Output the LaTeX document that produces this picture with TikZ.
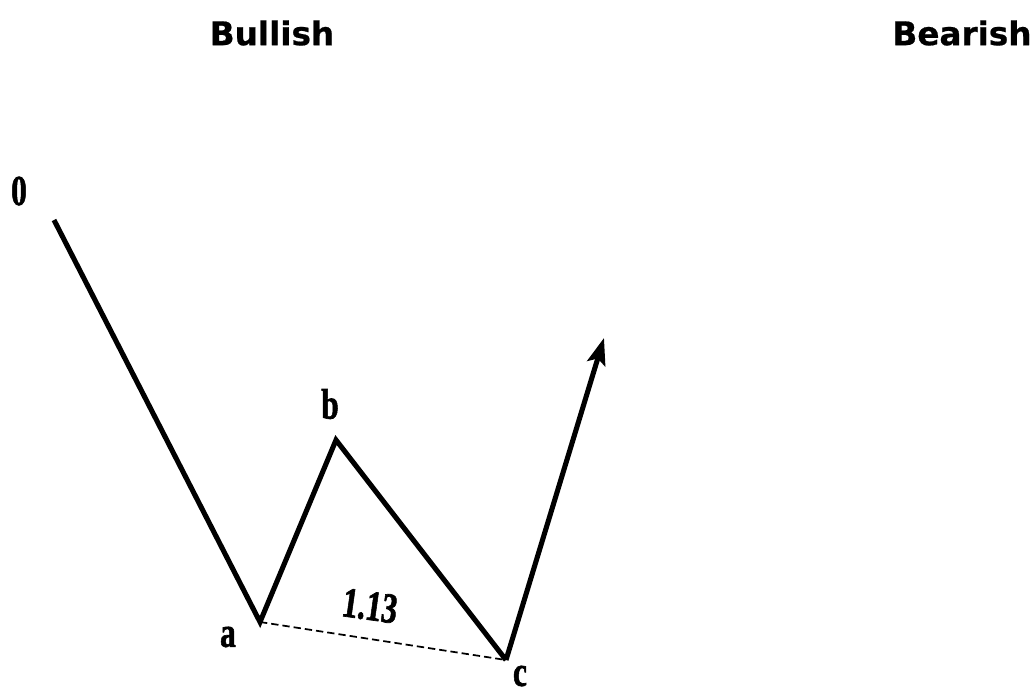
\documentclass[tikz,border=0pt]{standalone}
\usepackage{fontspec}
\setmainfont{Liberation Serif}
\newfontfamily\headfont{DejaVu Sans}[BoldFeatures={FakeBold=0.6}]
\newfontfamily\lblfont{Liberation Serif Bold}[FakeBold=1.6]
\usetikzlibrary{arrows.meta}
\newcommand{\narrow}[1]{\scalebox{0.74}[1]{#1}}
\begin{document}
\begin{tikzpicture}[x=0.75pt,y=-0.75pt,
  head/.style={font=\headfont\bfseries\fontsize{24.5}{28}\selectfont, inner sep=0pt},
  lbl/.style={font=\lblfont\fontsize{32}{36}\selectfont, inner sep=0pt},
  wave/.style={line width=3.8pt, line join=miter},
  ratio/.style={line width=1.3pt, dash pattern=on 5.5pt off 3pt}]
\useasboundingbox (0,0) rectangle (1034,694);
\node[head] (bull) at (272,33) {Bullish};
\node[head] (bear) at (962,33) {Bearish};
\coordinate (p0) at (54,220);
\coordinate (pa) at (260,622);
\coordinate (pb) at (336,440);
\coordinate (pc) at (506,660);
\coordinate (pd) at (604,338);
\draw[wave] (p0) -- (pa) -- (pb) -- (pc);
\draw[wave, -{Stealth[length=20pt, width=14pt, inset=4pt]}] (pc) -- (pd);
\draw[ratio] (pa) -- (pc);
\node[lbl] (l0) at (19,191) {\narrow{0}};
\node[lbl] (la) at (228,637) {\narrow{a}};
\node[lbl] (lb) at (330,404) {\narrow{b}};
\node[lbl] (lc) at (520,676) {\narrow{c}};
\node[lbl, rotate=-8] (lr) at (370,606) {\narrow{1.13}};
\end{tikzpicture}
\end{document}
